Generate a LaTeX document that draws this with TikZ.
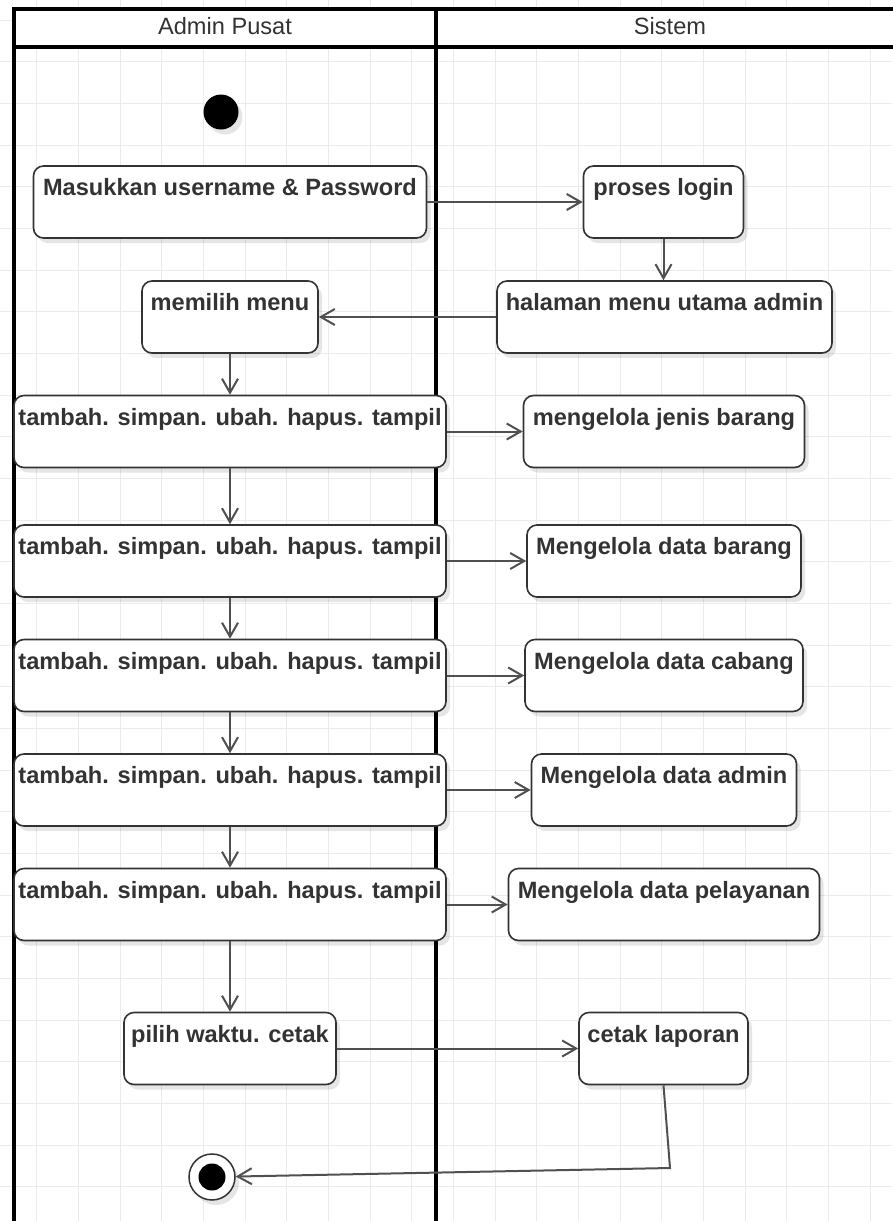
\documentclass[tikz,border=0pt]{standalone}
\usepackage{fontspec}
\setmainfont{Liberation Sans}
\usepackage{tikz}
\usetikzlibrary{arrows.meta, shadows}

\definecolor{linec}{HTML}{505050}
\definecolor{boxc}{HTML}{333333}
\definecolor{textc}{HTML}{333333}
\definecolor{gridc}{HTML}{EBEBEB}

\newcommand{\actfont}{\fontsize{23.6pt}{28pt}\selectfont\bfseries}
\newcommand{\lanefont}{\fontsize{23.6pt}{28pt}\selectfont}

\tikzset{
    gridline/.style={draw=gridc, line width=1pt},
    lane/.style={draw=black, line width=3.3pt},
    act/.style={draw=boxc, line width=1.6pt, rounded corners=10pt, fill=white,
        inner sep=0pt, minimum height=72pt, text height=29.5pt, text depth=42.5pt,
        font=\actfont, text=textc,
        drop shadow={shadow xshift=4pt, shadow yshift=-5pt, fill=black, opacity=0.1}},
    flow/.style={draw=linec, line width=2pt, -{Straight Barb[length=14pt, width=16pt]}}
}

\begin{document}
\begin{tikzpicture}[x=1pt, y=-1pt]
        \useasboundingbox (0,0) rectangle (892,1221);
        
        % grid
        \foreach \gx in {0,...,21}
            \draw[gridline] ({-5+41.67*\gx},0) -- ++(0,1221);
        \foreach \gy in {0,...,29}
            \draw[gridline] (0,{20+41.67*\gy}) -- ++(892,0);
        
        % swimlanes
        \fill[white] (14,9) rectangle (900,47);
        \draw[lane] (14,1230) -- (14,9) -- (900,9);
        \draw[lane] (14,47) -- (900,47);
        \draw[lane] (436,9) -- (436,1230);
        \node[font=\lanefont, text=textc, anchor=base] (admin) at (225,34.5) {Admin Pusat};
        \node[font=\lanefont, text=textc, anchor=base] (sistem) at (670,34.5) {Sistem};
        
        % start
        \node[circle, fill=black, inner sep=0pt, minimum size=35pt,
            drop shadow={shadow xshift=4pt, shadow yshift=-5pt, fill=black, opacity=0.1}] (mulai) at (221,112) {};
        
        \node[act, minimum width=393pt] (masuk) at (230,202) {Masukkan username \& Password};
        \node[act, minimum width=160pt] (login) at (663.5,202) {proses login};
        \node[act, minimum width=335pt] (halaman) at (664.5,317) {halaman menu utama admin};
        \node[act, minimum width=176pt] (memilih) at (230,317) {memilih menu};
        
        \foreach \i/\yy/\bw/\txt in {1/431.5/281/mengelola jenis barang,
                                     2/561/274/Mengelola data barang,
                                     3/675.5/278/Mengelola data cabang,
                                     4/790/265/Mengelola data admin,
                                     5/904.5/311/Mengelola data pelayanan} {
            \node[act, minimum width=432pt] (tambah\i) at (230,\yy) {tambah. simpan. ubah. hapus. tampil};
            \node[act, minimum width=\bw pt] (kelola\i) at (664,\yy) {\txt};
            \draw[flow] (tambah\i.east) -- (kelola\i.west);
        }
        
        \node[act, minimum width=212pt] (pilih) at (230,1048.5) {pilih waktu. cetak};
        \node[act, minimum width=169pt] (cetak) at (663.5,1048.5) {cetak laporan};
        
        % end
        \node[circle, draw=boxc, line width=1.5pt, fill=white, inner sep=0pt, minimum size=46pt,
            drop shadow={shadow xshift=4pt, shadow yshift=-5pt, fill=black, opacity=0.1}] (akhir) at (212,1177) {};
        \node[circle, fill=black, inner sep=0pt, minimum size=27pt] (akhirdot) at (akhir) {};
        \coordinate (belok) at (670,1168);
        
        \draw[flow] (masuk.east) -- (login.west);
        \draw[flow] (login.south) -- (login.south |- halaman.north);
        \draw[flow] (halaman.west) -- (memilih.east);
        \draw[flow] (memilih.south) -- (tambah1.north);
        \foreach \i/\j in {1/2, 2/3, 3/4, 4/5}
            \draw[flow] (tambah\i.south) -- (tambah\j.north);
        \draw[flow] (tambah5.south) -- (pilih.north);
        \draw[flow] (pilih.east) -- (cetak.west);
        \draw[flow] (cetak.south) -- (belok) -- (akhir);
    \end{tikzpicture}
\end{document}
